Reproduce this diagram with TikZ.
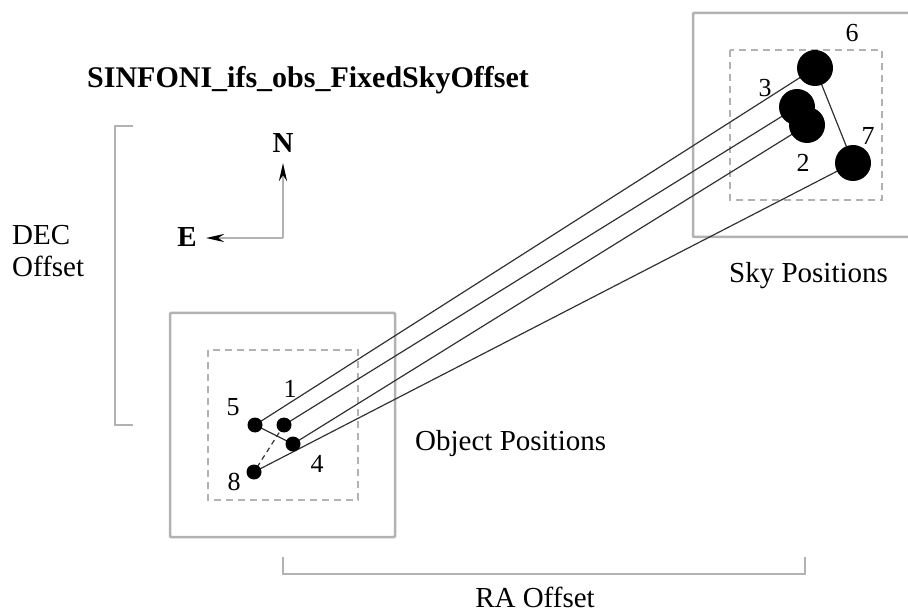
\documentclass[tikz,border=0pt]{standalone}
\usepackage{fontspec}
\setmainfont{Liberation Serif}
\usetikzlibrary{arrows.meta}
\definecolor{boxgray}{RGB}{178,178,178}
\definecolor{linegray}{RGB}{50,50,50}
\tikzset{
  outerbox/.style={draw=boxgray, line width=2.5pt, rounded corners=1pt},
  innerbox/.style={draw=boxgray, line width=2pt, dash pattern=on 7pt off 5pt},
  bracket/.style={draw=boxgray, line width=2.5pt},
  conn/.style={draw=linegray, line width=1.2pt},
  smalldot/.style={circle, fill=black, inner sep=0pt, minimum size=15pt},
  bigdot/.style={circle, fill=black, inner sep=0pt, minimum size=36pt},
  lbl/.style={inner sep=0pt, anchor=base, font=\fontsize{29}{31}\selectfont},
  lblw/.style={inner sep=0pt, anchor=base west, font=\fontsize{29}{31}\selectfont},
  digit/.style={inner sep=0pt, anchor=base, font=\fontsize{26}{28}\selectfont},
  compass/.style={draw=boxgray, line width=2.5pt, -{Stealth[length=18pt,width=8pt,color=black]}},
}
\begin{document}
\begin{tikzpicture}[x=1pt,y=-1pt]
\useasboundingbox (0,0) rectangle (908,612);
% title
\node[inner sep=0pt, anchor=base west, font=\fontsize{30}{32}\selectfont\bfseries] (title) at (87,88) {SINFONI\_ifs\_obs\_FixedSkyOffset};
% DEC bracket
\draw[bracket] (133,126) -- (115,126) -- (115,425) -- (133,425);
\node[lblw] (dec) at (12,245) {DEC};
\node[lblw] (decoff) at (12,277) {Offset};
% compass
\coordinate (corner) at (283,238);
\coordinate (ntip) at (283,163);
\coordinate (etip) at (206,238);
\draw[compass] (corner) -- (ntip);
\draw[compass] (corner) -- (etip);
\node[inner sep=0pt, anchor=base, font=\fontsize{29}{31}\selectfont\bfseries] (N) at (283,153) {N};
\node[inner sep=0pt, anchor=base, font=\fontsize{29}{31}\selectfont\bfseries] (E) at (187,247) {E};
% object box
\draw[outerbox] (170,313) rectangle (395,537);
\draw[innerbox] (208,350) rectangle (358,500);
% sky box
\draw[outerbox] (693,13) rectangle (919,237);
\draw[innerbox] (730,50) rectangle (882,200);
% RA bracket
\draw[bracket] (283,557) -- (283,574) -- (805,574) -- (805,557);
\node[lbl] (ra) at (535,607) {RA Offset};
\node[lblw] (objpos) at (415,450) {Object Positions};
\node[lblw] (skypos) at (729,283) {Sky Positions};
% dot positions
\coordinate (p5) at (255,425);
\coordinate (p1) at (284,425);
\coordinate (p4) at (293,444);
\coordinate (p8) at (254,472);
\coordinate (p6) at (815,68);
\coordinate (p3) at (797,107);
\coordinate (p2) at (807,125);
\coordinate (p7) at (853,163);
% connectors
\draw[conn] (p5) -- (p6);
\draw[conn] (p1) -- (p3);
\draw[conn] (p4) -- (p2);
\draw[conn] (p8) -- (p7);
\draw[conn] (p5) -- (p4);
\draw[conn, dash pattern=on 5pt off 4pt] (p1) -- (p8);
\draw[conn] (p6) -- (p7);
% dots
\node[smalldot] (d5) at (p5) {};
\node[smalldot] (d1) at (p1) {};
\node[smalldot] (d4) at (p4) {};
\node[smalldot] (d8) at (p8) {};
\node[bigdot] (d6) at (p6) {};
\node[bigdot] (d3) at (p3) {};
\node[bigdot] (d2) at (p2) {};
\node[bigdot] (d7) at (p7) {};
% digit labels
\node[digit] (l5) at (233,415) {5};
\node[digit] (l1) at (290,397) {1};
\node[digit] (l4) at (317,472) {4};
\node[digit] (l8) at (234,490) {8};
\node[digit] (l6) at (852,42) {6};
\node[digit] (l3) at (765,97) {3};
\node[digit] (l7) at (868,145) {7};
\node[digit] (l2) at (803,172) {2};
\end{tikzpicture}
\end{document}
